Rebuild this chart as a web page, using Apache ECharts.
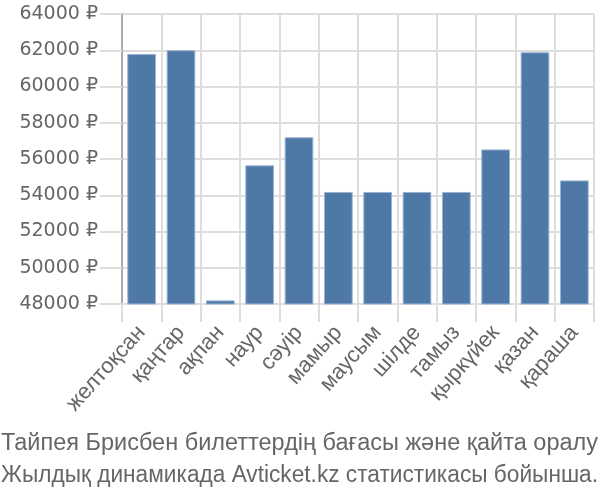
<!DOCTYPE html>
<html><head><meta charset="utf-8">
<script src="https://cdn.jsdelivr.net/npm/echarts@6/dist/echarts.min.js"></script>
<style>html,body{margin:0;padding:0;background:#fff}#c{width:600px;height:500px}</style>
</head><body><div id="c"></div>
<script>
var categories = ['желтоқсан','қаңтар','ақпан','наур','сәуір','мамыр','маусым','шілде','тамыз','қыркүйек','қазан','қараша'];
var prices = [61800, 62000, 48200, 55650, 57200, 54180, 54180, 54180, 54180, 56530, 61890, 54820];
var yMin = 48000, yMax = 64000, yStep = 2000;
var titleLines = ['Тайпея Брисбен билеттердің бағасы және қайта оралу', 'Жылдық динамикада Avticket.kz статистикасы бойынша.'];

var titleFont = '23px "Liberation Sans"';
var ctx = document.createElement('canvas').getContext('2d');
ctx.font = titleFont;
function fitScale(t, w) { return w / ctx.measureText(t).width; }

var chart = echarts.init(document.getElementById('c'), null, {renderer:'canvas'});
chart.setOption({
  animation: false,
  graphic: [
    {type: 'text', x: 1, y: 444, scaleX: fitScale(titleLines[0], 597), silent: true,
     style: {text: titleLines[0], font: titleFont, fill: '#666', verticalAlign: 'middle'}},
    {type: 'text', x: 1, y: 475.5, scaleX: fitScale(titleLines[1], 597), silent: true,
     style: {text: titleLines[1], font: titleFont, fill: '#666', verticalAlign: 'middle'}}
  ],
  grid: {left: 122, right: 6, top: 14, bottom: 196, containLabel: false},
  xAxis: {
    type: 'category', data: categories,
    axisLine: {show: true, lineStyle: {color: '#ddd', width: 2}},
    axisTick: {show: true, length: 18, lineStyle: {color: '#ddd', width: 2}},
    splitLine: {show: true, lineStyle: {color: '#ddd', width: 2}},
    axisLabel: {rotate: 48, margin: 25, fontFamily: 'Liberation Sans', fontSize: 22, color: '#666', interval: 0}
  },
  yAxis: {
    type: 'value', min: yMin, max: yMax, interval: yStep,
    axisLine: {show: true, lineStyle: {color: '#aaa', width: 2}},
    axisTick: {show: true, length: 22, lineStyle: {color: '#ddd', width: 2}},
    splitLine: {show: true, lineStyle: {color: '#ddd', width: 2}},
    axisLabel: {margin: 24, fontFamily: 'DejaVu Sans', fontSize: 19, color: '#666',
      formatter: function (v) { return v + ' ₽'; }}
  },
  series: [{
    type: 'bar', data: prices, barCategoryGap: '27%',
    itemStyle: {color: '#4e79a7', borderColor: '#9bb5d3', borderWidth: 1}
  }]
});
</script></body></html>
